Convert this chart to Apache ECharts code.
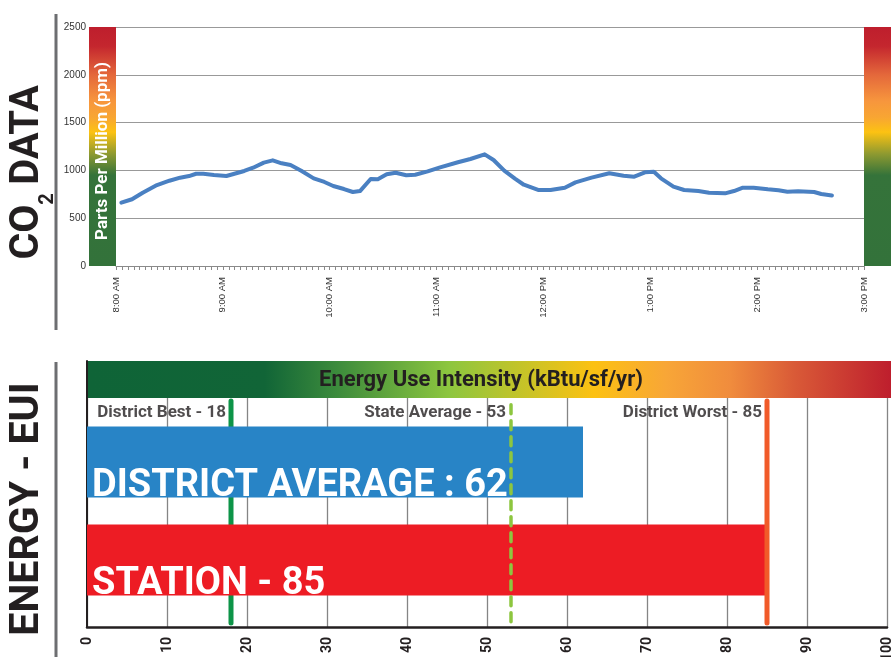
<!DOCTYPE html>
<html>
<head>
<meta charset="utf-8">
<script src="https://cdn.jsdelivr.net/npm/echarts@6/dist/echarts.min.js"></script>
<style>
html,body{margin:0;padding:0;background:#fff;}
#chart{width:891px;height:657px;}
</style>
</head>
<body>
<div id="chart"></div>
<script>
// ---------- CO2 data (top chart) ----------
const co2Times = ["8:03","8:09","8:15","8:23","8:30","8:36","8:41","8:45","8:49","8:55",
  "9:02","9:12","9:17","9:23","9:28","9:33","9:38","9:44","9:51","9:57",
  "10:02","10:08","10:13","10:17","10:23","10:27","10:32","10:37","10:43","10:48","10:55",
  "11:02","11:12","11:19","11:27","11:32","11:38","11:44","11:49","11:57",
  "12:04","12:12","12:18","12:27","12:37","12:45","12:51","12:57",
  "13:02","13:06","13:13","13:19","13:27","13:33","13:42","13:47","13:52","13:58",
  "14:06","14:12","14:17","14:23","14:32","14:36","14:42"];
const co2Values = [662,698,767,847,892,924,941,965,965,952,
  941,994,1028,1081,1105,1074,1056,997,917,879,
  837,805,774,784,910,907,959,976,949,955,990,
  1032,1085,1119,1168,1109,997,913,850,795,
  795,819,875,924,970,945,934,980,
  986,917,830,795,784,767,760,784,819,819,
  802,792,777,781,774,753,737];
const hourLabels = ["8:00 AM","9:00 AM","10:00 AM","11:00 AM","12:00 PM","1:00 PM","2:00 PM","3:00 PM"];
const co2Ticks = [0,500,1000,1500,2000,2500];

// ---------- EUI data (bottom chart) ----------
const euiCategories = ["STATION","DISTRICT AVERAGE"];
const euiValues = [85, 62];
const euiBarLabels = ["STATION - 85","DISTRICT AVERAGE : 62"];
const refNames = ["District Best","State Average","District Worst"];
const refValues = [18, 53, 85];
const euiTicks = [0,10,20,30,40,50,60,70,80,90,100];

function toMinutes(s){const p=s.split(":");return (parseInt(p[0])-8)*60+parseInt(p[1]);}
const co2Data = co2Times.map((t,i)=>[toMinutes(t), co2Values[i]]);

const chart = echarts.init(document.getElementById('chart'), null, {renderer:'canvas'});
const LG = echarts.graphic.LinearGradient;
const sideGrad = () => new LG(0,0,0,1,[
  {offset:0,color:'#be1e2d'},{offset:0.08,color:'#c4262e'},
  {offset:0.2,color:'#e4683b'},{offset:0.31,color:'#f7963d'},
  {offset:0.38,color:'#f8a632'},{offset:0.44,color:'#fcc212'},
  {offset:0.53,color:'#8f9a30'},{offset:0.62,color:'#35733a'},{offset:1,color:'#33723a'}]);
const headGrad = new LG(0,0,1,0,[
  {offset:0,color:'#0f6437'},{offset:0.22,color:'#116537'},
  {offset:0.31,color:'#3c8b3c'},{offset:0.45,color:'#8dc63f'},
  {offset:0.63,color:'#fcc112'},{offset:0.72,color:'#f8a637'},
  {offset:0.8,color:'#f08c3d'},{offset:0.88,color:'#d95a37'},{offset:1,color:'#be1e2d'}]);

const boldFont = '"Roboto","Liberation Sans",sans-serif';
const axisFont = '"Liberation Sans",Arial,sans-serif';

const refLineData = (v,lo,hi) => [[v,lo],[v,hi]];

const option = {
  animation:false,
  backgroundColor:'#fff',
  grid:[
    {left:116,right:27,top:27,bottom:391,outerBoundsMode:'none',containLabel:false},
    {left:87,right:4,top:361,bottom:30,outerBoundsMode:'none',containLabel:false},
    {left:87,right:4,top:413,bottom:48,outerBoundsMode:'none',containLabel:false}
  ],
  xAxis:[
    {gridIndex:0,type:'value',min:0,max:420,interval:60,
      axisLine:{show:true,lineStyle:{color:'#8a8a8a',width:1}},
      axisTick:{show:true,length:4,lineStyle:{color:'#8a8a8a'}},
      minorTick:{show:true,splitNumber:18,length:4,lineStyle:{color:'#8a8a8a'}},
      splitLine:{show:false},
      axisLabel:{rotate:90,margin:11,fontSize:9.5,color:'#333',fontFamily:axisFont,
        formatter:v=>hourLabels[Math.round(v/60)]||''}},
    {gridIndex:1,type:'value',min:euiTicks[0],max:euiTicks[euiTicks.length-1],interval:10,
      axisLine:{show:true,lineStyle:{color:'#231f20',width:2.5}},
      axisTick:{show:false},
      splitLine:{show:true,lineStyle:{color:'#858585',width:1.3}},
      axisLabel:{rotate:90,margin:10,fontSize:14,fontWeight:'bold',color:'#231f20',fontFamily:boldFont,
        showMaxLabel:true}},
    {gridIndex:2,type:'value',min:0,max:100,show:false}
  ],
  yAxis:[
    {gridIndex:0,type:'value',min:co2Ticks[0],max:co2Ticks[co2Ticks.length-1],interval:500,
      axisLine:{show:false},axisTick:{show:false},
      splitLine:{show:true,lineStyle:{color:'#999',width:1}},
      axisLabel:{margin:30,fontSize:10,color:'#333',fontFamily:axisFont,formatter:v=>String(v)}},
    {gridIndex:1,type:'value',min:0,max:100,
      axisLine:{show:true,lineStyle:{color:'#231f20',width:2}},
      axisTick:{show:false},axisLabel:{show:false},splitLine:{show:false}},
    {gridIndex:2,type:'category',data:euiCategories,show:false}
  ],
  series:[
    {type:'line',xAxisIndex:0,yAxisIndex:0,data:co2Data,symbol:'none',
      lineStyle:{color:'#4a80c2',width:4,join:'round',cap:'round'},z:3},
    // District best line (behind bars)
    {type:'line',xAxisIndex:1,yAxisIndex:1,data:refLineData(refValues[0],1.5,85),symbol:'none',
      lineStyle:{color:'#0d9448',width:5,cap:'round'},z:1,silent:true},
    {type:'bar',xAxisIndex:2,yAxisIndex:2,barWidth:71,z:2,
      data:euiValues.map((v,i)=>({value:v,itemStyle:{color:i===0?'#ed1c24':'#2884c6'}})),
      label:{show:true,position:[5,'100%'],align:'left',verticalAlign:'bottom',offset:[0,8],
        color:'#fff',fontSize:38,fontWeight:'bold',fontFamily:boldFont,lineHeight:38,
        formatter:p=>euiBarLabels[p.dataIndex]}},
    {type:'line',xAxisIndex:1,yAxisIndex:1,data:refLineData(refValues[1],2,84),symbol:'none',
      lineStyle:{color:'#8dc63f',width:3.5,type:[9,7],cap:'round'},z:5,silent:true},
    {type:'line',xAxisIndex:1,yAxisIndex:1,data:refLineData(refValues[2],1.5,85),symbol:'none',
      lineStyle:{color:'#f15a29',width:5,cap:'round'},z:5,silent:true},
    {type:'scatter',xAxisIndex:1,yAxisIndex:1,symbolSize:0,z:6,
      data:refValues.map(v=>[v,80.5]),
      label:{show:true,position:'left',distance:5,color:'#231f20',fontSize:17,fontWeight:'bold',fontFamily:boldFont,
        formatter:p=>refNames[p.dataIndex]+' - '+refValues[p.dataIndex]}}
  ],
  graphic:[
    {type:'line',shape:{x1:56,y1:14,x2:56,y2:330},style:{stroke:'#6d6e71',lineWidth:3},z:100},
    {type:'line',shape:{x1:56,y1:362,x2:56,y2:657},style:{stroke:'#6d6e71',lineWidth:3},z:100},
    {type:'text',x:28,y:135,rotation:Math.PI/2,z:100,
      style:{text:'DATA',font:'bold 40px '+boldFont,fill:'#231f20',align:'center',verticalAlign:'middle'}},
    {type:'text',x:28,y:232,rotation:Math.PI/2,z:100,
      style:{text:'CO',font:'bold 41px '+boldFont,fill:'#231f20',align:'center',verticalAlign:'middle'}},
    {type:'text',x:48,y:199,rotation:Math.PI/2,z:100,
      style:{text:'2',font:'bold 20px '+boldFont,fill:'#231f20',align:'center',verticalAlign:'middle'}},
    {type:'text',x:28,y:509,rotation:Math.PI/2,z:100,
      style:{text:'ENERGY - EUI',font:'bold 41px '+boldFont,fill:'#231f20',align:'center',verticalAlign:'middle'}},
    {type:'rect',shape:{x:89,y:27,width:27,height:239},style:{fill:sideGrad()},z:100},
    {type:'rect',shape:{x:864,y:27,width:27,height:239},style:{fill:sideGrad()},z:100},
    {type:'text',x:103,y:151,rotation:Math.PI/2,z:101,
      style:{text:'Parts Per Million (ppm)',font:'bold 17px '+boldFont,fill:'#fff',align:'center',verticalAlign:'middle'}},
    {type:'rect',shape:{x:88,y:361,width:803,height:37},style:{fill:headGrad},z:100},
    {type:'text',x:481,y:380,z:101,
      style:{text:'Energy Use Intensity (kBtu/sf/yr)',font:'bold 22px '+boldFont,fill:'#231f20',align:'center',verticalAlign:'middle'}}
  ]
};
chart.setOption(option);
</script>
</body>
</html>
